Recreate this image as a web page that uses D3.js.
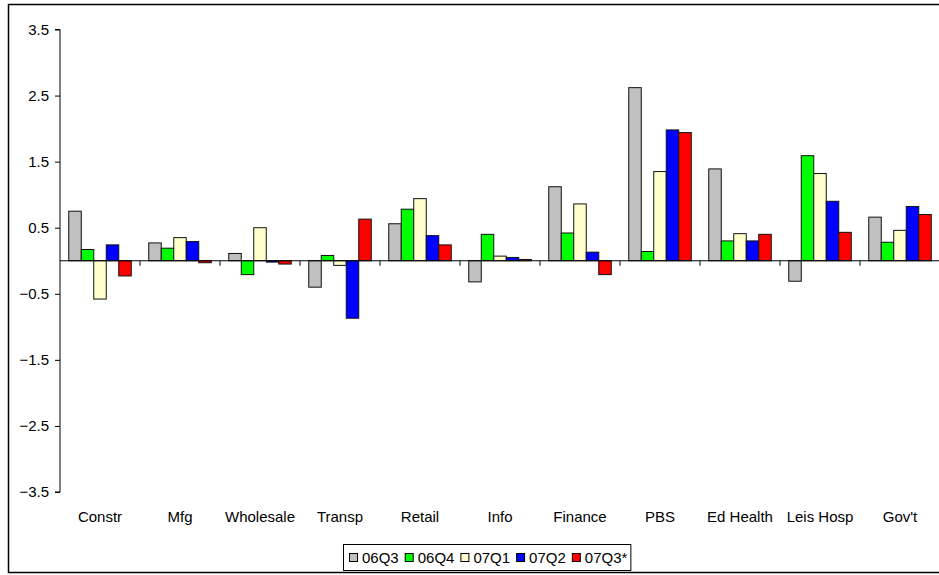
<!DOCTYPE html>
<html>
<head>
<meta charset="utf-8">
<script src="https://cdn.jsdelivr.net/npm/d3@7"></script>
<style>
  body { margin: 0; background: #fff; }
  svg text { font-family: "Liberation Sans", Arial, sans-serif; fill: #000; }
</style>
</head>
<body>
<svg id="chart" width="939" height="575"></svg>
<script>
// Industry groups and quarterly values
var categories = ["Constr", "Mfg", "Wholesale", "Transp", "Retail", "Info", "Finance", "PBS", "Ed Health", "Leis Hosp", "Gov't"];
var seriesNames = ["06Q3", "06Q4", "07Q1", "07Q2", "07Q3*"];
var seriesColors = ["#c0c0c0", "#00ff00", "#ffffcc", "#0000ff", "#ff0000"];

var q06Q3 = [0.75, 0.27, 0.11, -0.40, 0.56, -0.32, 1.12, 2.62, 1.39, -0.31, 0.66];
var q06Q4 = [0.17, 0.19, -0.21, 0.08, 0.78, 0.40, 0.42, 0.14, 0.30, 1.59, 0.28];
var q07Q1 = [-0.58, 0.35, 0.50, -0.07, 0.94, 0.07, 0.86, 1.35, 0.41, 1.32, 0.46];
var q07Q2 = [0.24, 0.29, -0.02, -0.87, 0.38, 0.05, 0.13, 1.98, 0.30, 0.90, 0.82];
var q07Q3 = [-0.23, -0.03, -0.05, 0.63, 0.24, 0.02, -0.21, 1.94, 0.40, 0.43, 0.70];
var allSeries = [q06Q3, q06Q4, q07Q1, q07Q2, q07Q3];

var yTicks = [3.5, 2.5, 1.5, 0.5, -0.5, -1.5, -2.5, -3.5];

var $svg = d3.select("#chart");

// outer chart frame
$svg.append("rect")
    .attr("x", 8.5).attr("y", 4.5)
    .attr("width", 940).attr("height", 568)
    .attr("fill", "none")
    .attr("stroke", "#000")
    .attr("stroke-width", 1.5);

// plot area edges (don't call it "top", that's window.top)
var plotL = 60, plotR = 940, plotT = 29.5, plotB = 492;

var x = d3.scaleBand().domain(categories).range([plotL, plotR]);
// gap width 140% like the original spreadsheet chart
var x1 = d3.scaleBand().domain(d3.range(seriesNames.length))
    .range([0, x.bandwidth()]).paddingOuter(0.7).paddingInner(0);
var y = d3.scaleLinear().domain([-3.5, 3.5]).range([plotB, plotT]);

// bars
var rows = [];
categories.forEach(function(c, ci){
    allSeries.forEach(function(s, si){
        rows.push({cat: c, si: si, v: s[ci]});
    });
});

$svg.append("g").selectAll("rect")
    .data(rows)
    .join("rect")
    .attr("x", d => x(d.cat) + x1(d.si))
    .attr("width", x1.bandwidth())
    .attr("y", d => y(Math.max(0, d.v)))
    .attr("height", d => Math.abs(y(d.v) - y(0)))
    .attr("fill", d => seriesColors[d.si])
    .attr("stroke", "#111")
    .attr("stroke-width", 1);

// y axis
var yAxis = d3.axisLeft(y).tickValues(yTicks).tickSize(5).tickPadding(6)
    .tickFormat(d3.format(".1f"));
var $ya = $svg.append("g")
    .attr("transform", `translate(${plotL} 0)`)
    .call(yAxis);
$ya.select(".domain").attr("d", `M-5,${y(3.5)}H0V${y(-3.5)}H-5`).attr("stroke", "#000");
$ya.selectAll("text").attr("font-size", 15).attr("font-family", "Liberation Sans, Arial, sans-serif");

// x axis line at zero with category ticks pointing down
var $xa = $svg.append("g").attr("transform", `translate(0 ${y(0)})`);
$xa.append("line")
    .attr("x1", plotL).attr("x2", plotR)
    .attr("stroke", "#000");
$xa.selectAll(".tk")
    .data(categories.slice(1))
    .join("line")
    .attr("x1", d => x(d)).attr("x2", d => x(d))
    .attr("y1", 0).attr("y2", 5)
    .attr("stroke", "#000");

// category labels below the plot
$svg.append("g").selectAll("text")
    .data(categories)
    .join("text")
    .attr("x", d => x(d) + x.bandwidth() / 2)
    .attr("y", 522)
    .attr("text-anchor", "middle")
    .attr("font-size", 15)
    .text(d => d);

// legend
var $leg = $svg.append("g").attr("transform", "translate(343 544)");
var $box = $leg.append("rect")
    .attr("x", 0.5).attr("y", 0.5)
    .attr("height", 26)
    .attr("fill", "#fff")
    .attr("stroke", "#000");
var lx = 6;
seriesNames.forEach(function(n, i){
    $leg.append("rect")
        .attr("x", lx + 0.5).attr("y", 9.5)
        .attr("width", 8).attr("height", 8)
        .attr("fill", seriesColors[i])
        .attr("stroke", "#000");
    var t = $leg.append("text")
        .attr("x", lx + 13).attr("y", 19)
        .attr("font-size", 15)
        .text(n);
    lx += 13 + t.node().getComputedTextLength() + 6;
});
$box.attr("width", lx - 3);
</script>
</body>
</html>
